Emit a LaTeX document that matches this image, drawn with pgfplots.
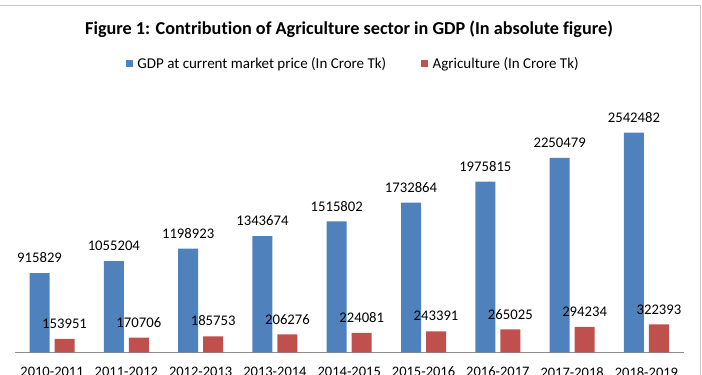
\documentclass[border=0pt]{standalone}
\usepackage{fontspec}
\setmainfont{Carlito}[Ligatures=CommonOff]
\usepackage{pgfplots}
\pgfplotsset{compat=1.18}
\definecolor{gdpblue}{HTML}{4F81BD}
\definecolor{agrred}{HTML}{C0504D}
\begin{document}
\begin{tikzpicture}
\useasboundingbox (0bp,0bp) rectangle (702bp,375bp);
\clip (0bp,0bp) rectangle (702bp,375bp);
\draw[color=black!22, line width=0.8bp] (0bp,370bp) -- (700bp,370bp) -- (700bp,-5bp);
\node[anchor=base, inner sep=0pt, font=\fontsize{18.2bp}{21bp}\selectfont\bfseries] at (349bp,340.7bp) {Figure 1: Contribution of Agriculture sector in GDP (In absolute figure)};
\begin{axis}[
  at={(14.9bp,22.7bp)}, anchor=south west,
  scale only axis, width=668.7bp, height=259.2bp,
  xmin=-0.5, xmax=8.5, ymin=0, ymax=3000000,
  axis x line*=bottom, axis y line=none,
  x axis line style={-, draw=black!45, line width=0.8bp},
  ytick=\empty,
  xtick={0,...,8},
  xticklabels={2010-2011,2011-2012,2012-2013,2013-2014,2014-2015,2015-2016,2016-2017,2017-2018,2018-2019},
  major tick length=0pt,
  xticklabel style={font=\fontsize{14.5bp}{17bp}\selectfont, inner sep=0pt, anchor=north, yshift=-14.7bp},
  ybar, bar width=20bp,
  point meta=explicit symbolic,
  nodes near coords,
  every node near coord/.append style={font=\fontsize{14.7bp}{17bp}\selectfont, anchor=south, inner sep=0pt, yshift=10bp, text=black},
  legend columns=2,
  legend style={at={(axis description cs:0.1661,1.114)}, anchor=west, draw=none, fill=none, inner sep=0pt, outer sep=0pt,
    font=\fontsize{15bp}{17bp}\selectfont,
    /tikz/every odd column/.append style={column sep=4.5bp},
    /tikz/every even column/.append style={column sep=35bp},
    nodes={inner sep=0pt}},
  legend image code/.code={\fill[#1] (0bp,-3.5bp) rectangle (7bp,3.5bp);},
]
\addplot[fill=gdpblue, draw=none, bar shift=-12.5bp] coordinates {
 (0,915829) [915829]
 (1,1055204) [1055204]
 (2,1198923) [1198923]
 (3,1343674) [1343674]
 (4,1515802) [1515802]
 (5,1732864) [1732864]
 (6,1975815) [1975815]
 (7,2250479) [2250479]
 (8,2542482) [2542482]
};
\addlegendentry{GDP at current market price (In Crore Tk)}
\addplot[fill=agrred, draw=none, bar shift=12.5bp] coordinates {
 (0,153951) [153951]
 (1,170706) [170706]
 (2,185753) [185753]
 (3,206276) [206276]
 (4,224081) [224081]
 (5,243391) [243391]
 (6,265025) [265025]
 (7,294234) [294234]
 (8,322393) [322393]
};
\addlegendentry{Agriculture (In Crore Tk)}
\end{axis}
\end{tikzpicture}
\end{document}
